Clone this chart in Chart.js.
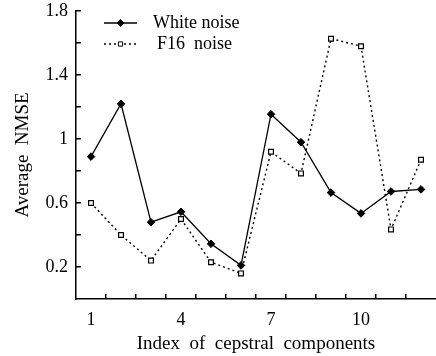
<!DOCTYPE html>
<html>
<head>
<meta charset="utf-8">
<script src="https://cdn.jsdelivr.net/npm/chart.js@4"></script>
<style>
  html, body { margin: 0; padding: 0; background: #fff; }
  #wrap { width: 436px; height: 356px; position: relative; }
</style>
</head>
<body>
<div id="wrap"><canvas id="grafico"></canvas></div>
<script>
// --- DATOS ---
const indices = [1, 2, 3, 4, 5, 6, 7, 8, 9, 10, 11, 12];
const whiteNoise = [0.89, 1.22, 0.48, 0.545, 0.345, 0.21, 1.155, 0.98, 0.665, 0.535, 0.672, 0.685];
const f16Noise = [0.60, 0.40, 0.24, 0.50, 0.23, 0.16, 0.92, 0.785, 1.627, 1.58, 0.435, 0.87];
const xLabels = [1, 4, 7, 10];
const yLabels = [0.2, 0.6, 1.0, 1.4, 1.8];
const xMinorTicks = [1.5, 2.5, 3.5, 4.5, 5.5, 6.5, 7.5, 8.5, 9.5, 10.5, 11.5];
const yMinorTicks = [0.2, 0.4, 0.6, 0.8, 1.0, 1.2, 1.4, 1.6, 1.8];
const serieNames = ['White noise', 'F16  noise'];

const FUENTE = '"Liberation Serif", "Times New Roman", serif';

const puntos = (ys) => indices.map((x, i) => ({ x: x, y: ys[i] }));

// --- PLUGIN: marcas hacia dentro + leyenda ---
const marcasYLeyenda = {
    id: 'marcasYLeyenda',
    afterDraw(chart) {
        const c = chart.ctx;
        const sx = chart.scales.x;
        const sy = chart.scales.y;
        const area = chart.chartArea;
        c.save();
        c.fillStyle = '#000';
        // marcas del eje x (hacia arriba)
        xMinorTicks.forEach(v => {
            const px = Math.round(sx.getPixelForValue(v));
            c.fillRect(px - 1, area.bottom - 5, 1.5, 5);
        });
        // marcas del eje y (hacia la derecha)
        yMinorTicks.forEach(v => {
            const py = Math.round(sy.getPixelForValue(v));
            c.fillRect(area.left, py - 1, 5, 1.5);
        });

        // leyenda
        const items = [
            { y: 23, dash: [], estilo: 'rectRot', relleno: '#000', tx: 153, r: 3.5 },
            { y: 44, dash: [2, 3], estilo: 'rect', relleno: '#fff', tx: 157, r: 3 }
        ];
        c.strokeStyle = '#000';
        items.forEach((it, i) => {
            c.setLineDash(it.dash);
            c.lineWidth = 1.3;
            c.beginPath();
            c.moveTo(104, it.y);
            c.lineTo(137, it.y);
            c.stroke();
            c.setLineDash([]);
            c.lineWidth = 1;
            c.fillStyle = it.relleno;
            Chart.helpers.drawPoint(c, { pointStyle: it.estilo, radius: it.r, rotation: 0, borderWidth: 1 }, 120.5, it.y);
            c.fillStyle = '#000';
            c.font = '18px ' + FUENTE;
            c.textBaseline = 'middle';
            c.textAlign = 'left';
            c.fillText(serieNames[i], it.tx, it.y);
        });
        c.restore();
    }
};

// --- GRÁFICO ---
const ctx = document.getElementById('grafico').getContext('2d');
new Chart(ctx, {
    type: 'line',
    data: {
        datasets: [{
            label: serieNames[0],
            data: puntos(whiteNoise),
            borderColor: '#000',
            borderWidth: 1.3,
            pointStyle: 'rectRot',
            pointRadius: 3.8,
            pointBackgroundColor: '#000',
            pointBorderColor: '#000',
            pointBorderWidth: 1,
            tension: 0
        }, {
            label: serieNames[1],
            data: puntos(f16Noise),
            borderColor: '#000',
            borderWidth: 1.4,
            borderDash: [2, 3],
            pointStyle: 'rect',
            pointRadius: 3.4,
            pointBackgroundColor: '#fff',
            pointBorderColor: '#000',
            pointBorderWidth: 1.2,
            tension: 0
        }]
    },
    options: {
        responsive: true,
        maintainAspectRatio: false,
        animation: false,
        layout: { autoPadding: false, padding: { top: 11, left: 0, right: 0, bottom: 0 } },
        plugins: { legend: { display: false }, tooltip: { enabled: false } },
        scales: {
            x: {
                type: 'linear',
                min: 0.5,
                max: 12.5,
                afterBuildTicks: (s) => { s.ticks = xLabels.map(v => ({ value: v })); },
                afterFit: (s) => { s.height = 57; s.paddingLeft = 0; s.paddingRight = 0; },
                grid: { display: false, drawTicks: false },
                border: { display: true, color: '#000', width: 1.5 },
                ticks: { color: '#000', padding: 10, maxRotation: 0, autoSkip: false, font: { family: FUENTE, size: 18 } },
                title: { display: true, text: 'Index  of  cepstral  components', color: '#000', font: { family: FUENTE, size: 19 }, padding: { top: 0, bottom: 1 } }
            },
            y: {
                min: 0,
                max: 1.8,
                afterBuildTicks: (s) => { s.ticks = yLabels.map(v => ({ value: v })); },
                afterFit: (s) => { s.width = 76; s.paddingTop = 0; s.paddingBottom = 0; },
                grid: { display: false, drawTicks: false },
                border: { display: true, color: '#000', width: 1.5 },
                ticks: { color: '#000', padding: 8, font: { family: FUENTE, size: 18 }, callback: (v) => String(Math.round(v * 10) / 10) },
                title: { display: true, text: 'Average  NMSE', color: '#000', font: { family: FUENTE, size: 19 }, padding: { top: 12, bottom: 0 } }
            }
        }
    },
    plugins: [marcasYLeyenda]
});
</script>
</body>
</html>
